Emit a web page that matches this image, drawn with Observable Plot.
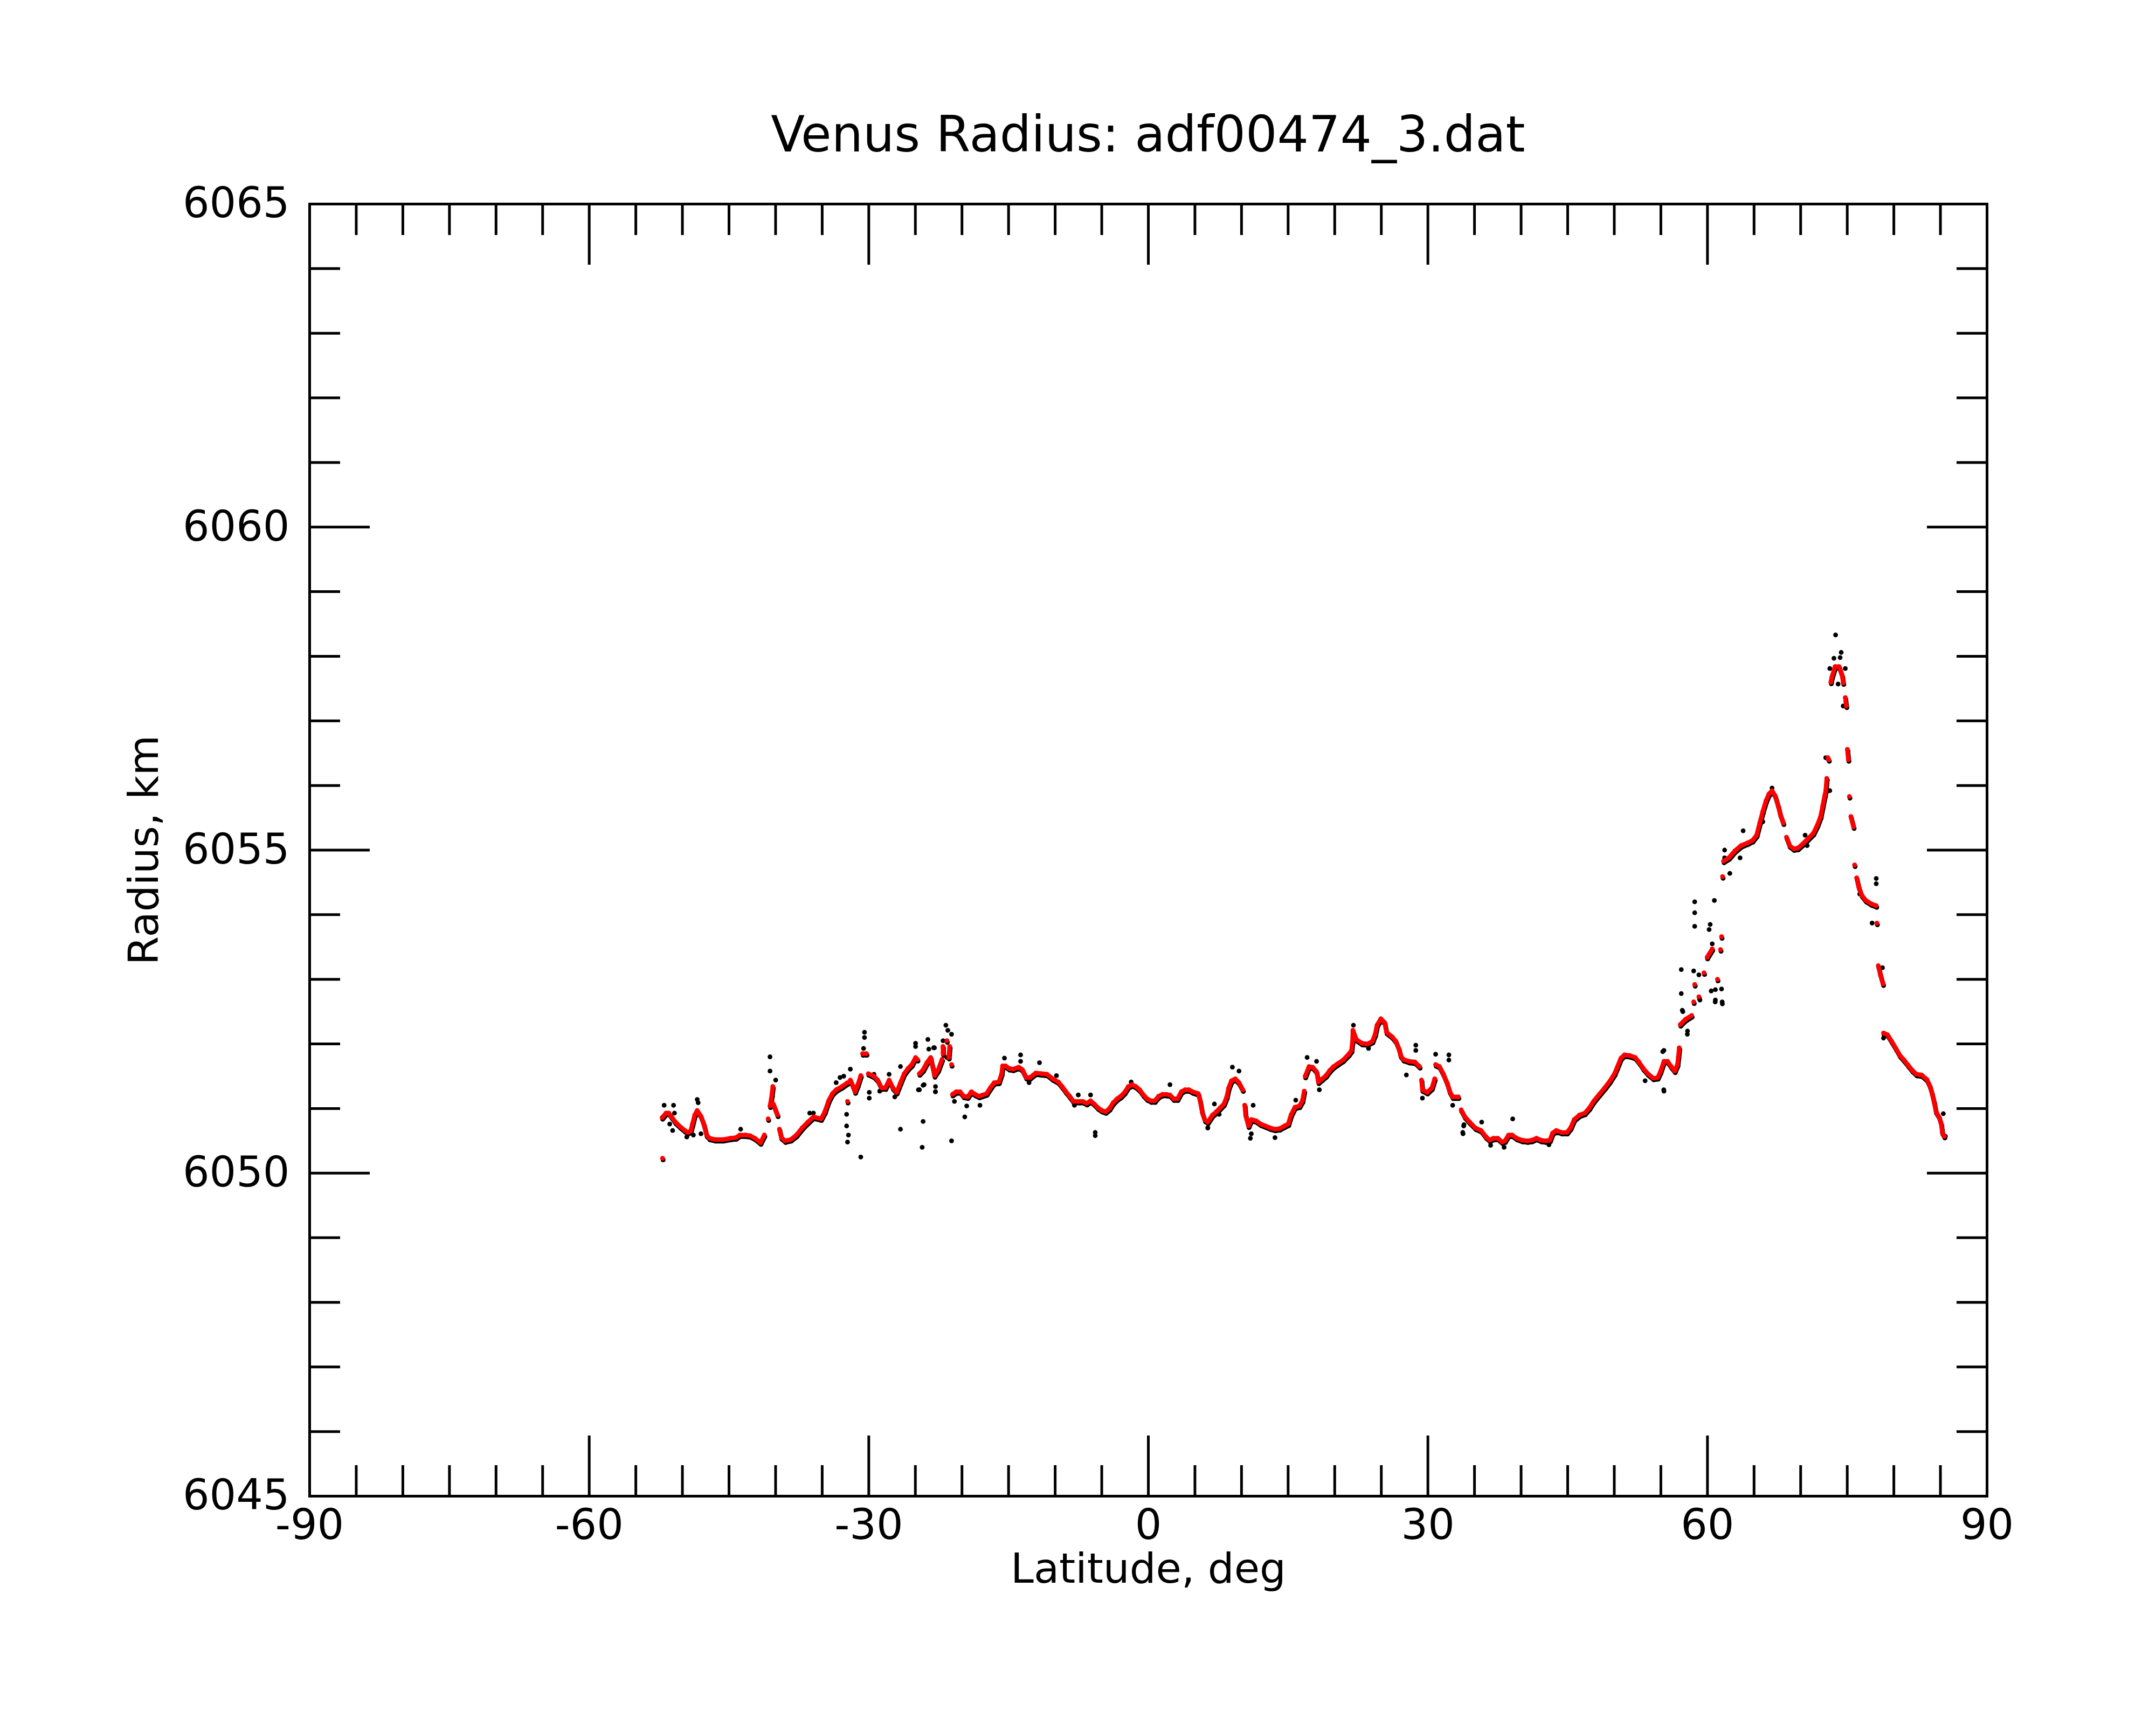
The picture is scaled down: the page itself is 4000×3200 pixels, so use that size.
<!DOCTYPE html>
<html>
<head>
<meta charset="utf-8">
<script src="https://cdn.jsdelivr.net/npm/d3@7"></script>
<script src="https://cdn.jsdelivr.net/npm/@observablehq/plot@0.6"></script>
<style>
html, body { margin: 0; padding: 0; background: #ffffff; }
#title {
  width: 4000px; height: 330px; box-sizing: border-box;
  padding-top: 204px; padding-left: 260px;
  text-align: center; white-space: nowrap;
  font-family: "DejaVu Sans"; font-size: 92px; line-height: 92px; color: #000;
}
#chart svg { display: block; }
</style>
</head>
<body>
<div id="title">Venus Radius: adf00474_3.dat</div>
<div id="chart"></div>
<script>
// ---- Data ----
const titleText = "Venus Radius: adf00474_3.dat";
const xLabel = "Latitude, deg";
const yLabel = "Radius, km";
const xMajor = [-90, -60, -30, 0, 30, 60, 90];
const xMinor = [-85,-80,-75,-70,-65,-55,-50,-45,-40,-35,-25,-20,-15,-10,-5,5,10,15,20,25,35,40,45,50,55,65,70,75,80,85];
const yMajor = [6045, 6050, 6055, 6060, 6065];
const yMinor = [6046,6047,6048,6049,6051,6052,6053,6054,6056,6057,6058,6059,6061,6062,6063,6064];

// smoothed (red) radius profile
const redLat = [
-52.13,-52.17,-51.76,-51.46,-51.15,-50.75,-50.24,-49.73,-49.43,-49.12,-48.92,-48.68,-48.41,-48.01,-47.70,-47.40,-47.09,-46.49,-45.67,-44.86,
-44.25,-43.85,-43.24,-42.73,-42.22,-41.62,-41.21,-40.80,-40.60,-40.40,-40.30,-40.24,-39.79,-39.59,-39.38,-38.98,-38.37,-37.76,-37.15,-36.54,
-35.94,-35.12,-34.72,-34.31,-33.91,-33.50,-32.89,-32.28,-32.28,-31.98,-31.67,-31.47,-31.17,-30.86,-30.66,-30.25,-30.05,-29.44,-29.04,-28.63,
-28.22,-27.82,-27.41,-27.01,-26.60,-26.20,-25.79,-25.38,-24.98,-24.78,-24.57,-24.17,-23.76,-23.36,-23.15,-22.95,-22.55,-22.14,-22.04,-22.03,
-21.62,-21.42,-21.32,-21.12,
-21.02,-20.61,-20.20,-19.80,-19.39,-18.99,-18.58,-18.17,-17.77,-17.36,-16.96,-16.55,-16.04,-15.74,-15.64,-15.33,-14.93,-14.52,-13.91,-13.51,
-13.10,-12.70,-12.09,-11.48,-10.87,-10.26,-9.65,-9.25,-8.84,-8.44,-8.03,-7.42,-7.02,-6.62,-6.20,-5.80,-5.39,-4.99,-4.58,-4.17,
-3.77,-3.36,-2.96,-2.55,-2.15,-1.74,-1.33,-0.93,-0.52,-0.12,0.29,0.69,1.10,1.51,1.91,2.32,2.72,3.13,3.54,3.94,
4.35,4.75,5.36,5.56,5.77,6.07,6.38,6.89,7.30,7.70,8.11,8.41,8.62,8.92,9.33,9.73,10.14,10.34,10.44,10.75,
11.05,11.56,12.06,12.57,13.08,13.59,14.09,14.60,15.01,15.31,15.72,16.22,16.53,16.73,16.83,17.24,17.64,18.05,18.25,18.66,
19.06,19.47,19.88,20.28,20.89,21.50,21.80,21.91,21.95,22.31,22.92,23.53,24.04,24.34,24.54,24.95,25.36,25.56,26.17,26.57,
26.88,27.08,27.38,27.99,28.60,29.11,29.31,29.41,29.92,30.43,30.73,30.83,31.24,31.64,32.05,32.35,32.66,33.27,33.57,33.98,
34.48,35.09,35.70,36.25,36.63,37.02,37.50,37.98,38.27,38.66,39.04,39.53,40.10,40.68,41.16,41.65,42.13,42.61,43.09,43.38,
43.77,44.35,44.92,45.31,45.70,46.27,46.85,47.33,47.82,48.39,48.97,49.55,50.03,50.32,50.71,51.09,51.67,52.25,52.64,53.12,
53.60,54.18,54.66,54.95,55.33,55.72,56.11,56.49,56.78,56.88,56.97,57.08,57.64,58.30,58.52,58.63,59.08,59.63,59.96,60.51,
61.07,61.40,61.51,61.62,61.73,62.29,62.95,63.61,64.28,64.83,65.27,65.61,65.94,66.27,66.60,66.93,67.27,67.60,67.82,68.15,
68.48,68.82,69.26,69.70,70.25,70.81,71.36,71.80,72.14,72.36,72.58,72.69,72.80,72.91,73.02,73.24,73.35,73.69,74.13,74.46,
74.57,74.79,74.90,75.01,75.12,75.23,75.39,75.68,75.79,76.01,76.23,76.56,77.01,77.56,78.11,78.18,78.33,78.56,78.84,78.89,
79.33,79.77,80.22,80.66,81.10,81.54,81.99,82.43,82.98,83.54,83.87,84.09,84.31,84.53,84.86,85.09,85.20,85.42
];
const redR = [
6050.23,6050.86,6050.93,6050.93,6050.87,6050.79,6050.72,6050.66,6050.63,6050.65,6050.76,6050.90,6050.97,6050.88,6050.76,6050.59,6050.54,6050.52,6050.52,6050.54,
6050.55,6050.59,6050.59,6050.58,6050.54,6050.47,6050.59,6050.84,6051.04,6051.21,6051.34,6051.07,6050.90,6050.68,6050.55,6050.50,6050.52,6050.59,6050.70,6050.79,
6050.87,6050.84,6050.95,6051.12,6051.23,6051.29,6051.34,6051.40,6051.11,6051.44,6051.34,6051.26,6051.37,6051.51,6051.85,6051.85,6051.54,6051.50,6051.44,6051.32,
6051.32,6051.44,6051.32,6051.25,6051.40,6051.54,6051.62,6051.68,6051.79,6051.76,6051.54,6051.60,6051.71,6051.79,6051.65,6051.51,6051.60,6051.76,6051.96,6051.85,
6052.05,6051.79,6051.96,6051.68,
6051.22,6051.26,6051.26,6051.19,6051.18,6051.26,6051.22,6051.19,6051.21,6051.23,6051.32,6051.40,6051.41,6051.54,6051.66,6051.66,6051.62,6051.61,6051.64,6051.60,
6051.48,6051.48,6051.55,6051.54,6051.53,6051.46,6051.41,6051.34,6051.26,6051.19,6051.11,6051.11,6051.11,6051.08,6051.12,6051.07,6051.01,6050.97,6050.95,6051.00,
6051.09,6051.15,6051.19,6051.25,6051.34,6051.37,6051.34,6051.29,6051.21,6051.15,6051.12,6051.12,6051.19,6051.22,6051.22,6051.21,6051.15,6051.15,6051.26,6051.29,
6051.29,6051.26,6051.23,6051.12,6050.95,6050.82,6050.79,6050.90,6050.95,6051.01,6051.07,6051.18,6051.32,6051.43,6051.46,6051.40,6051.29,6051.05,6050.90,6050.73,
6050.83,6050.81,6050.76,6050.73,6050.70,6050.68,6050.69,6050.73,6050.76,6050.90,6051.02,6051.04,6051.12,6051.27,6051.50,6051.65,6051.64,6051.57,6051.41,6051.46,
6051.51,6051.59,6051.65,6051.69,6051.75,6051.84,6051.90,6052.04,6052.21,6052.07,6052.01,6052.00,6052.04,6052.15,6052.29,6052.39,6052.33,6052.18,6052.11,6052.04,
6051.93,6051.82,6051.76,6051.73,6051.72,6051.65,6051.44,6051.29,6051.25,6051.32,6051.46,6051.68,6051.65,6051.54,6051.40,6051.26,6051.18,6051.18,6050.98,6050.87,
6050.79,6050.70,6050.66,6050.56,6050.51,6050.54,6050.54,6050.48,6050.50,6050.59,6050.59,6050.54,6050.51,6050.50,6050.51,6050.54,6050.51,6050.50,6050.51,6050.62,
6050.66,6050.63,6050.63,6050.70,6050.83,6050.90,6050.93,6051.01,6051.12,6051.22,6051.32,6051.43,6051.54,6051.64,6051.78,6051.83,6051.82,6051.79,6051.72,6051.62,
6051.54,6051.47,6051.48,6051.57,6051.73,6051.73,6051.65,6051.58,6051.68,6051.80,6051.94,6052.30,6052.38,6052.44,6052.65,6052.92,6052.73,6053.10,6053.34,6053.47,
6053.00,6053.46,6053.66,6054.59,6054.83,6054.88,6054.99,6055.07,6055.11,6055.15,6055.23,6055.42,6055.60,6055.76,6055.87,6055.92,6055.84,6055.68,6055.55,6055.42,
6055.20,6055.07,6055.02,6055.03,6055.10,6055.18,6055.26,6055.39,6055.52,6055.68,6055.84,6055.92,6056.11,6056.43,6056.40,6057.60,6057.68,6057.84,6057.84,6057.70,
6057.59,6057.36,6057.23,6056.56,6056.40,6055.83,6055.52,6055.36,6054.77,6054.57,6054.43,6054.30,6054.22,6054.17,6054.14,6053.87,6053.21,6053.07,6052.93,6052.17,
6052.14,6052.04,6051.93,6051.82,6051.75,6051.67,6051.59,6051.53,6051.52,6051.45,6051.35,6051.24,6051.11,6050.95,6050.87,6050.76,6050.63,6050.57
];

// raw (black) samples that stand apart from the smoothed profile
const blackLat = [
-51.96,-50.95,-48.41,-48.31,-40.60,-40.60,-39.99,-30.46,-30.46,-30.56,-32.38,-32.38,-32.18,-32.28,-30.86,-29.95,-29.95,-26.60,-26.60,-24.17,
-24.27,-24.98,-24.98,-23.66,-23.56,-22.95,-24.57,-24.17,-22.85,-31.98,-33.09,-32.69,-33.50,-27.82,-27.21,-28.83,-29.44,-36.34,-35.94,-50.85,
-51.36,-51.05,-49.53,-48.82,-48.01,-43.75,
-21.73,-21.52,-21.12,-22.03,-21.62,-23.04,-24.67,-24.06,-22.84,-22.84,-19.70,-19.49,-21.12,-20.81,-18.07,-15.44,-13.71,-13.71,-11.68,-9.86,
-5.70,-5.70,-7.52,-6.20,2.32,6.38,-1.84,-12.80,-7.93,
9.02,9.73,10.95,11.05,13.59,17.04,18.05,18.35,22.01,28.70,28.70,30.83,32.25,32.25,27.69,29.41,32.66,33.87,33.77,11.25,
7.09,7.60,6.38,15.82,23.63,19.78,
33.84,33.74,35.77,39.10,53.31,55.33,55.33,57.36,57.84,60.83,61.60,38.18,42.99,36.73,
57.19,57.19,57.30,58.63,58.63,58.63,60.74,60.29,60.40,60.85,61.51,60.85,61.58,60.18,60.51,58.52,59.08,59.19,57.86,61.84,
62.40,61.84,63.83,63.50,65.94,66.93,70.70,70.48,73.13,72.69,73.75,74.35,73.57,74.24,74.79,74.02,73.13,74.57,78.11,78.11,
77.67,78.78,78.89,85.31,85.53,55.31,55.20,76.34
];
const blackR = [
6051.05,6051.05,6051.14,6051.09,6051.80,6051.58,6051.44,6052.18,6052.10,6051.93,6050.91,6050.73,6050.59,6050.48,6050.25,6051.25,6051.16,6051.65,6050.68,6050.80,
6050.40,6052.01,6051.96,6052.07,6051.92,6051.94,6051.29,6051.36,6051.26,6051.61,6051.48,6051.50,6051.40,6051.53,6051.18,6051.27,6051.53,6050.93,6050.93,6050.93,
6050.76,6050.66,6050.56,6050.59,6050.61,6050.68,
6052.29,6052.21,6052.15,6052.05,6051.79,6051.94,6051.29,6051.37,6051.34,6051.26,6050.87,6051.04,6050.50,6051.11,6051.05,6051.78,6051.83,6051.73,6051.71,6051.51,
6050.63,6050.58,6051.21,6051.21,6051.37,6050.70,6051.41,6051.40,6051.05,
6051.64,6051.58,6050.54,6050.61,6050.55,6051.79,6051.73,6051.29,6052.29,6051.98,6051.90,6051.84,6051.83,6051.75,6051.52,6051.16,6051.05,6050.75,6050.61,6051.05,
6051.07,6050.91,6050.70,6051.13,6051.93,6051.61,
6050.73,6050.63,6050.79,6050.84,6051.43,6051.27,6051.90,6052.50,6052.15,6052.65,6052.62,6050.40,6050.44,6050.43,
6053.15,6052.78,6052.52,6054.20,6054.03,6053.82,6054.22,6053.85,6052.82,6052.84,6052.85,6052.68,6052.65,6053.77,6053.55,6053.13,6053.07,6052.68,6052.20,6055.00,
6054.64,6054.88,6055.30,6054.88,6055.44,6055.96,6055.07,6055.23,6055.92,6056.43,6058.33,6058.06,6057.97,6057.98,6057.81,6057.57,6057.81,6057.23,6054.56,6054.48,
6053.87,6053.18,6052.09,6050.92,6050.57,6051.29,6051.88,6054.32
];

// ---- Layout ----
const W = 4000, H = 2870, mL = 574, mR = 314, mT = 48, mB = 425;
const pxDeg = (W - mL - mR) / 180, pxKm = (H - mT - mB) / 20;

const red = redLat.map((lat, i) => ({lat, r: redR[i]}));
let seg = 0;
red.forEach((d, i) => {
  if (i > 0) {
    const p = red[i - 1];
    const dist = Math.hypot((d.lat - p.lat) * pxDeg, (d.r - p.r) * pxKm);
    if (dist > 24) seg++;
  }
  d.seg = seg;
});
const black = blackLat.map((lat, i) => ({lat, r: blackR[i]}));

const fmt = d => String(d);
const SW = 5;

const chart = Plot.plot({
  width: W, height: H,
  marginLeft: mL, marginRight: mR, marginTop: mT, marginBottom: mB,
  x: {domain: [-90, 90]},
  y: {domain: [6045, 6065]},
  style: {fontFamily: "DejaVu Sans", fontSize: "78px", background: "#ffffff", color: "#000000"},
  marks: [
    // raw samples (black), drawn underneath
    Plot.line(red, {x: "lat", y: "r", z: "seg", stroke: "#000000", strokeWidth: 8.6, strokeLinejoin: "round", strokeLinecap: "round", dy: 3, dx: 1}),
    Plot.dot(red, {x: "lat", y: "r", r: 4.4, fill: "#000000", dy: 3, dx: 1}),
    Plot.dot(black, {x: "lat", y: "r", r: 4.4, fill: "#000000"}),
    // smoothed profile (red)
    Plot.line(red, {x: "lat", y: "r", z: "seg", stroke: "#ff0000", strokeWidth: 8.2, strokeLinejoin: "round", strokeLinecap: "round"}),
    Plot.dot(red, {x: "lat", y: "r", r: 4.3, fill: "#ff0000"}),
    // frame and inward ticks on all four sides
    Plot.frame({stroke: "#000000", strokeWidth: SW}),
    Plot.axisX({anchor: "bottom", ticks: xMinor, tickSize: -57, fill: "none", strokeWidth: SW, label: null}),
    Plot.axisX({anchor: "bottom", ticks: xMajor, tickSize: -112, fill: "none", strokeWidth: SW, label: null}),
    Plot.axisX({anchor: "top", ticks: xMinor, tickSize: -57, fill: "none", strokeWidth: SW, label: null}),
    Plot.axisX({anchor: "top", ticks: xMajor, tickSize: -112, fill: "none", strokeWidth: SW, label: null}),
    Plot.axisY({anchor: "left", ticks: yMinor, tickSize: -57, fill: "none", strokeWidth: SW, label: null}),
    Plot.axisY({anchor: "left", ticks: yMajor, tickSize: -112, fill: "none", strokeWidth: SW, label: null}),
    Plot.axisY({anchor: "right", ticks: yMinor, tickSize: -57, fill: "none", strokeWidth: SW, label: null}),
    Plot.axisY({anchor: "right", ticks: yMajor, tickSize: -112, fill: "none", strokeWidth: SW, label: null}),
    // tick labels
    Plot.axisX({anchor: "bottom", ticks: xMajor, tickSize: 0, tickPadding: 24, tickFormat: fmt, fontSize: 78, label: null}),
    Plot.axisY({anchor: "left", ticks: yMajor, tickSize: 0, tickPadding: 37, tickFormat: fmt, fontSize: 78, label: null}),
    // axis titles
    Plot.text([xLabel], {text: d => d, frameAnchor: "bottom", textAnchor: "middle", lineAnchor: "bottom", dy: 160, fontSize: 77}),
    Plot.text([yLabel], {text: d => d, frameAnchor: "left", textAnchor: "middle", lineAnchor: "bottom", rotate: -90, dx: -282, fontSize: 77})
  ]
});
document.getElementById("chart").appendChild(chart);
</script>
</body>
</html>
